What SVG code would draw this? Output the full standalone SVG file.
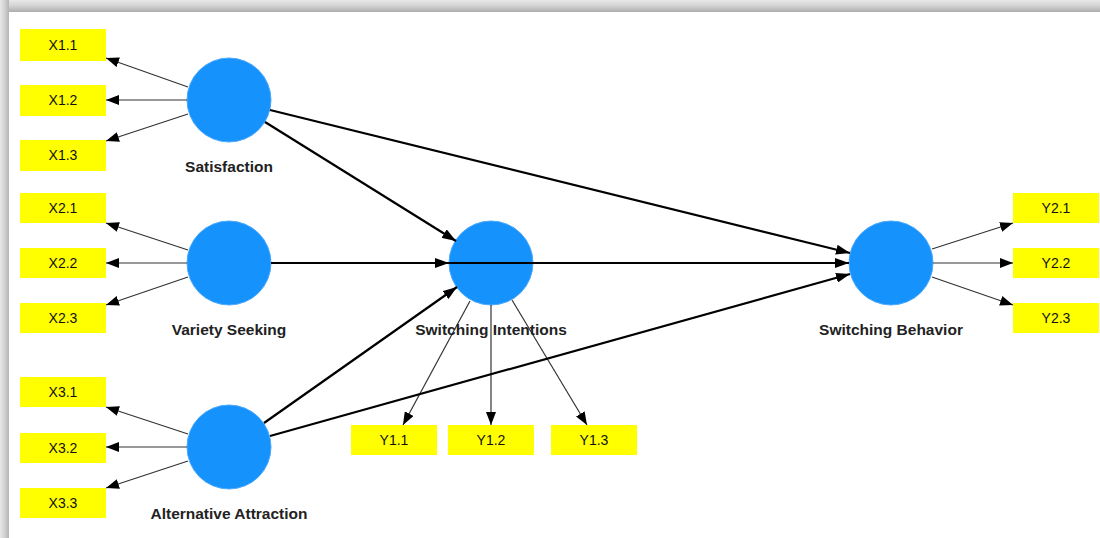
<svg xmlns="http://www.w3.org/2000/svg" width="1100" height="538" viewBox="0 0 1100 538">
<defs>
<linearGradient id="gTop" x1="0" y1="0" x2="0" y2="1">
<stop offset="0" stop-color="#e8e8e8"/>
<stop offset="0.5" stop-color="#d2d2d2"/>
<stop offset="1" stop-color="#adadad"/>
</linearGradient>
<linearGradient id="gLeft" x1="0" y1="0" x2="1" y2="0">
<stop offset="0" stop-color="#e8e8e8"/>
<stop offset="0.5" stop-color="#d2d2d2"/>
<stop offset="1" stop-color="#b5b5b5"/>
</linearGradient>
<marker id="aThick" viewBox="0 0 14 10" refX="14" refY="5" markerWidth="14" markerHeight="10" markerUnits="userSpaceOnUse" orient="auto">
<path d="M0,0 L14,5 L0,10 Z" fill="#000"/>
</marker>
<marker id="aThin" viewBox="0 0 13 10" refX="13" refY="5" markerWidth="13" markerHeight="10" markerUnits="userSpaceOnUse" orient="auto">
<path d="M0,0 L13,5 L0,10 Z" fill="#000"/>
</marker>
</defs>
<style>
.ind rect{fill:#ffff00;}
.ind text{font-family:"Liberation Sans",Arial,sans-serif;font-size:14px;fill:#111;text-anchor:middle;}
.lv circle{fill:#1592fc;stroke:#4aa8fb;stroke-width:1;}
.lv text{font-family:"Liberation Sans",Arial,sans-serif;font-size:15.5px;font-weight:bold;fill:#222;text-anchor:middle;}
.thick{stroke:#000;stroke-width:2.2;fill:none;marker-end:url(#aThick);}
.thin{stroke:#333;stroke-width:1.2;fill:none;marker-end:url(#aThin);}
</style>
<rect x="0" y="0" width="1100" height="538" fill="#fff"/>
<rect x="0" y="0" width="1100" height="12" fill="url(#gTop)"/>
<rect x="0" y="0" width="9" height="538" fill="url(#gLeft)"/>

<g id="lv-satisfaction" class="lv"><circle cx="229" cy="100" r="42"/><text x="229" y="172">Satisfaction</text></g>
<g id="lv-variety" class="lv"><circle cx="229" cy="263" r="42"/><text x="229" y="335">Variety Seeking</text></g>
<g id="lv-alternative" class="lv"><circle cx="229" cy="447" r="42"/><text x="229" y="519">Alternative Attraction</text></g>
<g id="lv-intentions" class="lv"><circle cx="491" cy="263" r="42"/></g>
<g id="lv-behavior" class="lv"><circle cx="891" cy="263" r="42"/><text x="891" y="335">Switching Behavior</text></g>

<g id="connectors">
<line class="thin" x1="188" y1="87" x2="106" y2="58"/>
<line class="thin" x1="187" y1="100" x2="106" y2="100"/>
<line class="thin" x1="188" y1="114" x2="106" y2="141"/>
<line class="thin" x1="188" y1="250" x2="106" y2="223"/>
<line class="thin" x1="187" y1="263" x2="106" y2="263"/>
<line class="thin" x1="188" y1="277" x2="106" y2="305"/>
<line class="thin" x1="188" y1="434" x2="106" y2="407"/>
<line class="thin" x1="187" y1="447" x2="106" y2="447"/>
<line class="thin" x1="188" y1="461" x2="106" y2="488"/>
<line class="thin" x1="470" y1="301" x2="403" y2="425"/>
<line class="thin" x1="491" y1="305" x2="491" y2="425"/>
<line class="thin" x1="512" y1="300" x2="587" y2="425"/>
<line class="thin" x1="932" y1="249" x2="1013" y2="223"/>
<line class="thin" x1="933" y1="263" x2="1013" y2="263"/>
<line class="thin" x1="932" y1="277" x2="1013" y2="305"/>
<line class="thick" x1="265" y1="122" x2="456" y2="241"/>
<line class="thick" x1="270" y1="110" x2="850" y2="253"/>
<line class="thick" x1="271" y1="263" x2="449" y2="263"/>
<line class="thick" x1="449" y1="263" x2="849" y2="263"/>
<line class="thick" x1="264" y1="423" x2="457" y2="287"/>
<line class="thick" x1="270" y1="436" x2="850" y2="274"/>
</g>

<g id="lv-intentions-label" class="lv"><text x="491" y="335">Switching Intentions</text></g>

<g id="x11" class="ind"><rect x="20" y="29" width="86" height="32"/><text x="63" y="50">X1.1</text></g>
<g id="x12" class="ind"><rect x="20" y="85" width="86" height="31"/><text x="63" y="105">X1.2</text></g>
<g id="x13" class="ind"><rect x="20" y="140" width="86" height="31"/><text x="63" y="160">X1.3</text></g>
<g id="x21" class="ind"><rect x="20" y="193" width="86" height="30"/><text x="63" y="213">X2.1</text></g>
<g id="x22" class="ind"><rect x="20" y="248" width="86" height="30"/><text x="63" y="268">X2.2</text></g>
<g id="x23" class="ind"><rect x="20" y="303" width="86" height="30"/><text x="63" y="323">X2.3</text></g>
<g id="x31" class="ind"><rect x="20" y="377" width="86" height="30"/><text x="63" y="397">X3.1</text></g>
<g id="x32" class="ind"><rect x="20" y="433" width="86" height="30"/><text x="63" y="453">X3.2</text></g>
<g id="x33" class="ind"><rect x="20" y="488" width="86" height="30"/><text x="63" y="508">X3.3</text></g>
<g id="y11" class="ind"><rect x="351" y="425" width="86" height="30"/><text x="394" y="445">Y1.1</text></g>
<g id="y12" class="ind"><rect x="448" y="425" width="86" height="30"/><text x="491" y="445">Y1.2</text></g>
<g id="y13" class="ind"><rect x="551" y="425" width="86" height="30"/><text x="594" y="445">Y1.3</text></g>
<g id="y21" class="ind"><rect x="1013" y="193" width="86" height="30"/><text x="1056" y="213">Y2.1</text></g>
<g id="y22" class="ind"><rect x="1013" y="248" width="86" height="30"/><text x="1056" y="268">Y2.2</text></g>
<g id="y23" class="ind"><rect x="1013" y="303" width="86" height="30"/><text x="1056" y="323">Y2.3</text></g>
</svg>
